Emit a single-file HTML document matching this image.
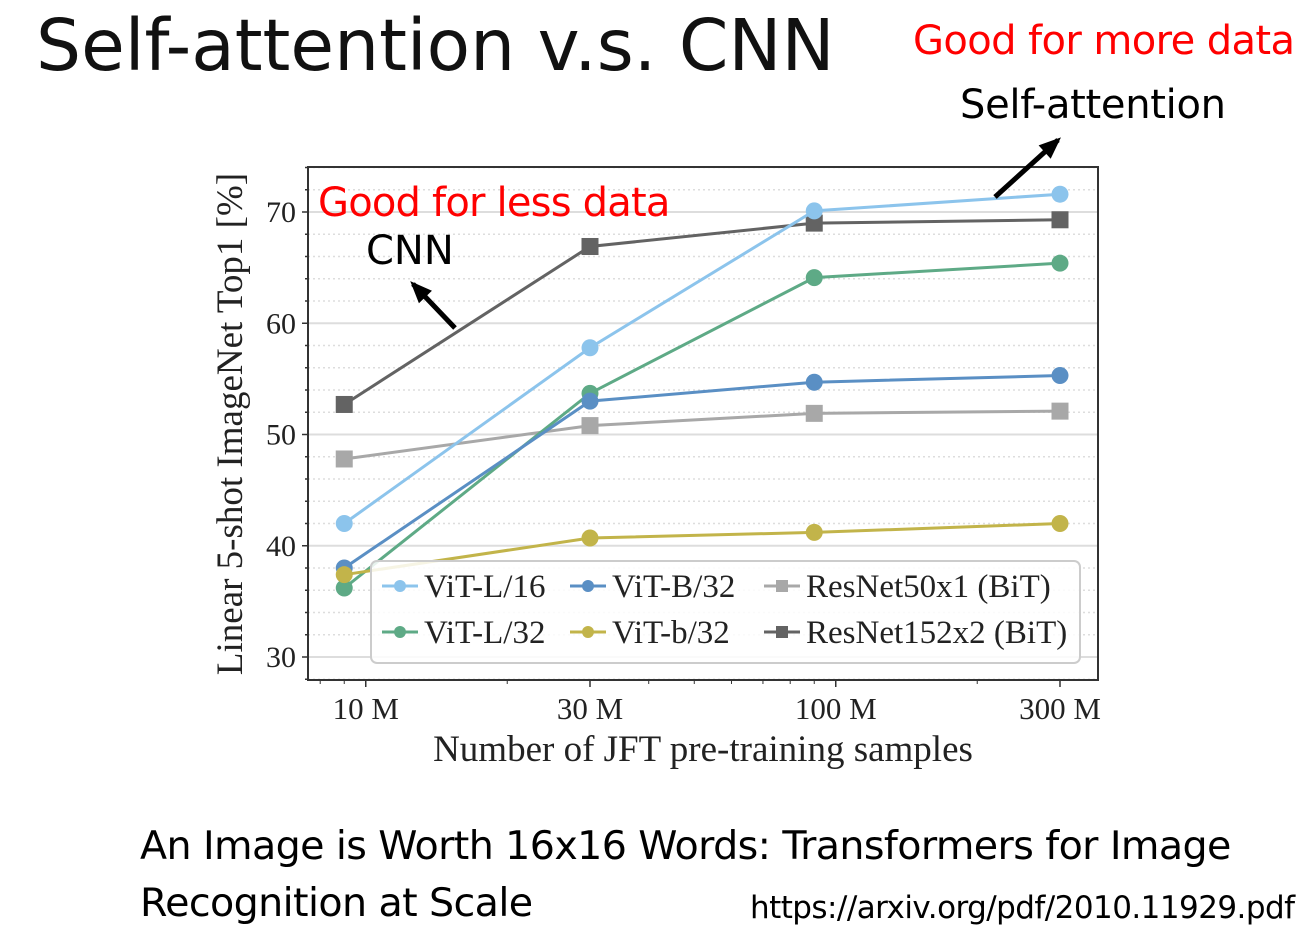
<!DOCTYPE html>
<html><head><meta charset="utf-8"><style>
body{margin:0;width:1308px;height:936px;background:#fff;overflow:hidden;position:relative;font-family:"Liberation Sans",sans-serif}
.t{position:absolute;white-space:nowrap}
</style></head><body>
<div class="t" style="left:36px;top:4px;font-size:71px;color:#111;font-family:'DejaVu Sans',sans-serif;letter-spacing:0px">Self-attention v.s. CNN</div>
<div class="t" style="left:913px;top:18px;font-size:40px;color:#f00;font-family:'DejaVu Sans',sans-serif;letter-spacing:-0.6px">Good for more data</div>
<div class="t" style="left:960px;top:82px;font-size:40px;color:#000;font-family:'DejaVu Sans',sans-serif;letter-spacing:-0.3px">Self-attention</div>
<svg width="1308" height="936" style="position:absolute;left:0;top:0">
<g id="grid"></g><g id="series"></g><g id="axes"></g>
</svg>
<div class="t" style="left:318px;top:180px;font-size:40px;color:#f00;font-family:'DejaVu Sans',sans-serif;letter-spacing:-0.8px">Good for less data</div>
<div class="t" style="left:366px;top:228px;font-size:40px;color:#000;font-family:'DejaVu Sans',sans-serif">CNN</div>
<div class="t" style="left:140px;top:818px;font-size:39.6px;color:#000;font-family:'DejaVu Sans',sans-serif;line-height:57px;letter-spacing:-0.6px">An Image is Worth 16x16 Words: Transformers for Image<br>Recognition at Scale</div>
<div class="t" style="left:750px;top:890px;font-size:31px;color:#000;font-family:'DejaVu Sans',sans-serif;letter-spacing:-0.55px">https://arxiv.org/pdf/2010.11929.pdf</div>
<script>
const categories=[9,30,90,300];
const seriesNames=["ViT-L/16","ViT-B/32","ResNet50x1 (BiT)","ViT-L/32","ViT-b/32","ResNet152x2 (BiT)"];
const vitL16=[42,57.8,70.1,71.6];
const vitB32=[38,53,54.7,55.3];
const res50=[47.8,50.8,51.9,52.1];
const vitL32=[36.2,53.7,64.1,65.4];
const vitb32=[37.4,40.7,41.2,42];
const res152=[52.7,66.9,69,69.3];
const yTicks=[30,40,50,60,70];
const xTicks=[10,30,100,300];
const xTickLabels=["10 M","30 M","100 M","300 M"];
const NS="http://www.w3.org/2000/svg";
const L=308,R=1098,T=167,B=680;
const y=v=>657-(v-30)*11.125;
const x=v=>590+(Math.log10(v)-Math.log10(30))*470;
function mk(tag,attrs,parent){const e=document.createElementNS(NS,tag);for(const k in attrs)e.setAttribute(k,attrs[k]);parent.appendChild(e);return e;}
const grid=document.getElementById('grid'),ser=document.getElementById('series'),ax=document.getElementById('axes');
for(let v=28;v<=74;v+=2){const yy=y(v);if(yy<T||yy>B)continue;
 const major=v%10===0;
 const g=mk('line',{x1:L,x2:R,y1:yy,y2:yy,stroke:'#ddd','stroke-width':major?2:1.5,'stroke-dasharray':major?'':'2,3'},grid);
 
 
 const tk=mk('line',{x1:L-(major?6:3),x2:L,y1:yy,y2:yy,stroke:'#333','stroke-width':1.5},ax);
 
 }
yTicks.forEach(v=>{const t=mk('text',{x:L-12,y:y(v)+10,'text-anchor':'end','font-size':30,'font-family':'Liberation Serif, serif',fill:'#222'},ax);t.textContent=v;
 
 });
[8,9,20,40,50,60,70,80,90,200,400].forEach(v=>{const xx=x(v);if(xx<L||xx>R)return;const tk=mk('line',{x1:xx,x2:xx,y1:B,y2:B+4,stroke:'#333','stroke-width':1},ax);
 
 });
xTicks.forEach((v,i)=>{const xx=x(v);const tk=mk('line',{x1:xx,x2:xx,y1:B,y2:B+7,stroke:'#333','stroke-width':1.5},ax);
 
 
 const t=mk('text',{x:xx,y:B+39,'text-anchor':'middle','font-size':31,'font-family':'Liberation Serif, serif',fill:'#222'},ax);t.textContent=xTickLabels[i];
 
 });
const frame=mk('rect',{x:L,y:T,width:R-L,height:B-T,fill:'none',stroke:'#333','stroke-width':2},ax);


const xt=mk('text',{x:703,y:761,'text-anchor':'middle','font-size':37,'font-family':'Liberation Serif, serif',fill:'#222'},ax);xt.textContent='Number of JFT pre-training samples';


const yt=mk('text',{x:0,y:0,'text-anchor':'middle','font-size':37,'font-family':'Liberation Serif, serif',fill:'#222',transform:'translate(242,424) rotate(-90)'},ax);yt.textContent='Linear 5-shot ImageNet Top1 [%]';


const all=[[vitL16,'#8cc4ec','c'],[vitB32,'#5a8fc4','c'],[res50,'#a8a8a8','s'],[vitL32,'#5eaa86','c'],[vitb32,'#c2b44a','c'],[res152,'#636363','s']];
const drawOrder=[2,5,0,3,1,4];
drawOrder.forEach(i=>{const [d,c,m]=all[i];
 const p=mk('polyline',{points:d.map((v,j)=>x(categories[j])+','+y(v)).join(' '),fill:'none',stroke:c,'stroke-width':3},ser);
 
 
 d.forEach((v,j)=>{const e=m==='c'?mk('circle',{cx:x(categories[j]),cy:y(v),r:8.5,fill:c},ser):mk('rect',{x:x(categories[j])-8.5,y:y(v)-8.5,width:17,height:17,fill:c},ser);
 
 });});
const lg=mk('rect',{x:371,y:561,width:709,height:102,rx:6,fill:'rgba(255,255,255,0.85)',stroke:'#ccc','stroke-width':2},ax);


const lx=[382,570,764],ly=[586,632];
[0,1,2,3,4,5].forEach(i=>{const [d,c,m]=all[i];const cx=lx[i%3],cy=ly[Math.floor(i/3)];
 const ln=mk('line',{x1:cx,x2:cx+36,y1:cy,y2:cy,stroke:c,'stroke-width':3},ax);
 
 
 if(m==='c')mk('circle',{cx:cx+18,cy:cy,r:6,fill:c},ax);else mk('rect',{x:cx+12,y:cy-6,width:12,height:12,fill:c},ax);
 const t=mk('text',{x:cx+42,y:cy+11,'font-size':33,'font-family':'Liberation Serif, serif',fill:'#222'},ax);t.textContent=seriesNames[i];
 
 });
function arrow(x1,y1,x2,y2,name){const g=mk('g',{},ax);
 
 mk('line',{x1:x1,y1:y1,x2:x2,y2:y2,stroke:'#000','stroke-width':5},g);
 const a=Math.atan2(y2-y1,x2-x1),h=18,w=9;
 const bx=x2-h*Math.cos(a),by=y2-h*Math.sin(a);
 mk('polygon',{points:`${x2+4*Math.cos(a)},${y2+4*Math.sin(a)} ${bx-w*Math.sin(a)},${by+w*Math.cos(a)} ${bx+w*Math.sin(a)},${by-w*Math.cos(a)}`,fill:'#000'},g);}
arrow(455,328,413,284,'cnn-arrow');
arrow(995,197,1058,140,'self-attention-arrow');
</script>
</body></html>
